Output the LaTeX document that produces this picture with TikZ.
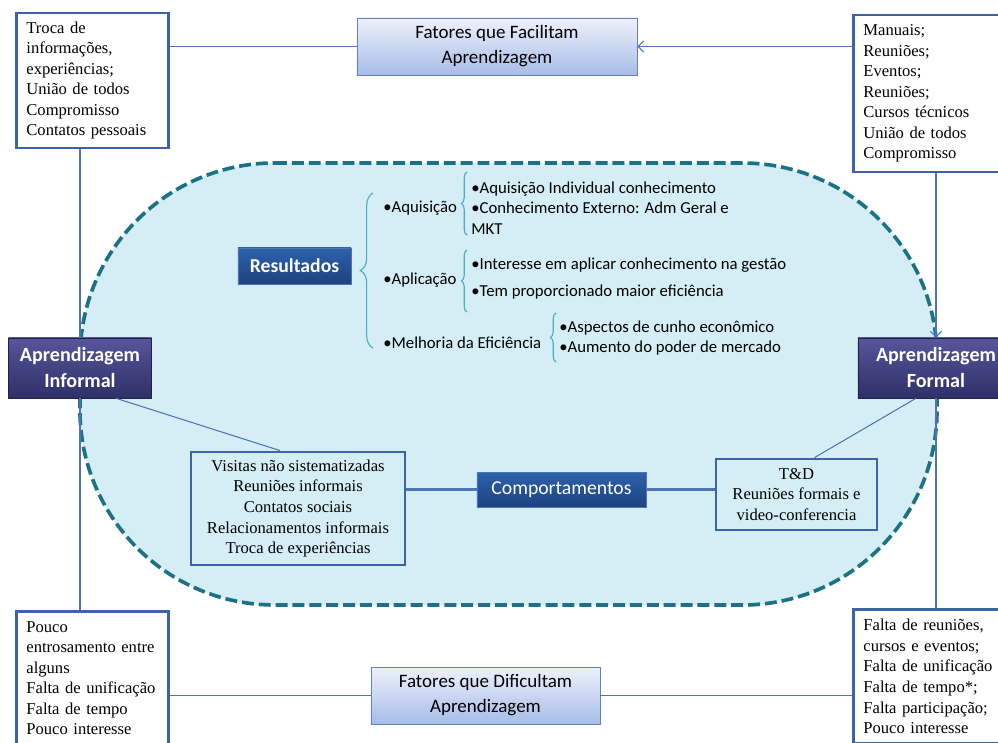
\documentclass[tikz,border=0pt]{standalone}
\usepackage{fontspec}
\setmainfont{Liberation Serif}
\newfontfamily\calibri{Carlito}
\usetikzlibrary{arrows.meta,decorations.pathreplacing}

\definecolor{caixaazul}{HTML}{3C63A5}
\definecolor{linhaazul}{HTML}{4F74B5}
\definecolor{fundociano}{HTML}{D5EEF5}
\definecolor{tracejado}{HTML}{1B7287}
\definecolor{corchave}{HTML}{4BACC6}
\definecolor{roxotopo}{HTML}{56569A}
\definecolor{roxobase}{HTML}{2F2F68}
\definecolor{azultopo}{HTML}{2D61AC}
\definecolor{azulbase}{HTML}{1D4280}
\definecolor{clarotopo}{HTML}{EDF1FB}
\definecolor{clarobase}{HTML}{A8BCE8}

\begin{document}
\begin{tikzpicture}[x=0.025cm, y=-0.025cm, >={Straight Barb[length=4pt,width=8pt]},
        lista/.style={draw=caixaazul, line width=2pt, fill=white, align=left, inner xsep=0.25cm,
            font=\fontsize{11.8}{14.6}\selectfont},
        centro/.style={draw=caixaazul, line width=2pt, fill=fundociano, align=center,
            font=\fontsize{11.8}{14.6}\selectfont},
        fator/.style={draw=linhaazul!90, top color=clarotopo, bottom color=clarobase, align=center,
            minimum height=1.425cm, font=\calibri\fontsize{13.5}{17.8}\selectfont},
        aprend/.style={draw=roxobase!70!black, top color=roxotopo, bottom color=roxobase, text=white,
            align=center, minimum width=3.575cm, minimum height=1.5cm,
            font=\calibri\bfseries\fontsize{14.3}{18.5}\selectfont},
        tema/.style={draw=linhaazul, top color=azultopo, bottom color=azulbase, text=white,
            minimum height=0.9cm, font=\calibri\fontsize{14}{17}\selectfont},
        itens/.style={anchor=west, align=left, inner sep=0pt, font=\calibri\fontsize{11.9}{14.6}\selectfont},
        liga/.style={draw=linhaazul, line width=0.75pt},
        chave/.style={draw=corchave, line width=0.8pt, decorate, decoration={brace, amplitude=#1}},
        chave/.default=5pt]

    \clip (0,0) rectangle (998,742);

    % Regiao central
    \draw[draw=tracejado, fill=fundociano, line width=2.6pt, dash pattern=on 8.5pt off 3.5pt]
        (275,163) -- (742,163) arc[start angle=90, end angle=0, radius=4.875cm]
        -- (937,410) arc[start angle=0, end angle=-90, radius=4.875cm]
        -- (275,605) arc[start angle=-90, end angle=-180, radius=4.875cm]
        -- (80,358) arc[start angle=180, end angle=90, radius=4.875cm] -- cycle;

    % Caixas de texto
    \node[lista, anchor=west, text width=3.3cm, minimum height=3.375cm] (trocaInfo) at (15,80.5)
        {Troca de\\informações,\\experiências;\\União de todos\\Compromisso\\Contatos pessoais};
    \node[lista, anchor=west, text width=3.55cm, minimum height=3.925cm] (manuais) at (852,93.5)
        {Manuais;\\Reuniões;\\Eventos;\\Reuniões;\\Cursos técnicos\\União de todos\\Compromisso};
    \node[lista, anchor=north west, text width=3.3cm, inner ysep=0.25cm] (poucoEntros) at (15,610)
        {Pouco\\entrosamento entre\\alguns\\Falta de unificação\\Falta de tempo\\Pouco interesse};
    \node[lista, anchor=north west, text width=3.55cm, inner ysep=0.25cm] (faltaReun) at (852,608)
        {Falta de reuniões,\\cursos e eventos;\\Falta de unificação\\Falta de tempo*;\\Falta participação;\\Pouco interesse};
    \node[centro, minimum width=5.35cm, minimum height=2.825cm] (visitas) at (298,508.5)
        {Visitas não sistematizadas\\Reuniões informais\\Contatos sociais\\Relacionamentos informais\\Troca de experiências};
    \node[centro, minimum width=4.025cm, minimum height=1.775cm] (td) at (796.5,494.5)
        {T\&D\\Reuniões formais e\\video-conferencia};

    % Fatores e aprendizagem
    \node[fator, minimum width=7cm] (facilitam) at (497,46.5) {Fatores que Facilitam\\Aprendizagem};
    \node[fator, minimum width=5.725cm] (dificultam) at (485.5,695.5) {Fatores que Dificultam\\Aprendizagem};
    \node[aprend] (informal) at (80,368) {Aprendizagem\\Informal};
    \node[aprend, minimum width=3.9cm] (formal) at (936,368) {Aprendizagem\\Formal};
    \node[tema, minimum width=2.825cm, font=\calibri\bfseries\fontsize{14}{17}\selectfont] (resultados) at (294.5,266) {Resultados};
    \node[tema, minimum width=4.225cm, minimum height=0.875cm] (comport) at (561.5,489.5) {Comportamentos};

    % Resultados
    \node[itens] (aquisicao) at (383,208) {•Aquisição};
    \node[itens] (aquisItens) at (471,208) {•Aquisição Individual conhecimento\\•Conhecimento Externo: Adm Geral e\\MKT};
    \node[itens] (aplicacao) at (383,280) {•Aplicação};
    \node[itens] (aplicItens) at (471,278.5) {•Interesse em aplicar conhecimento na gestão\\[4.6pt]•Tem proporcionado maior eficiência};
    \node[itens] (melhoria) at (383,343) {•Melhoria da Eficiência};
    \node[itens] (melhItens) at (559,338) {•Aspectos de cunho econômico\\•Aumento do poder de mercado};

    \draw[chave=9pt] (373,348) -- (373,193);
    \draw[chave=4pt] (467,235) -- (467,172);
    \draw[chave=4pt] (467,312) -- (467,250);
    \draw[chave=4pt] (556,362) -- (556,313);

    % Ligacoes
    \path[liga] (facilitam.west) -- (facilitam.west -| trocaInfo.east);
    \path[liga, ->] (facilitam.east -| manuais.west) -- (facilitam.east);
    \path[liga] (informal.north |- trocaInfo.south) -- (informal.north);
    \path[liga] (informal.south) -- (informal.south |- poucoEntros.north);
    \path[liga, ->] (formal.north |- manuais.south) -- (formal.north);
    \path[liga] (formal.south) -- (formal.south |- faltaReun.north);
    \path[liga] (dificultam.west) -- (dificultam.west -| poucoEntros.east);
    \path[liga] (dificultam.east) -- (dificultam.east -| faltaReun.west);
    \path[liga] ([xshift=0.9cm]informal.south) -- ([xshift=-0.45cm]visitas.north);
    \path[liga] ([xshift=-0.5cm]formal.south) -- ([xshift=0.45cm]td.north);
    \path[liga, line width=2pt] (comport.west) -- (comport.west -| visitas.east);
    \path[liga, line width=2pt] (comport.east) -- (comport.east -| td.west);
\end{tikzpicture}
\end{document}
